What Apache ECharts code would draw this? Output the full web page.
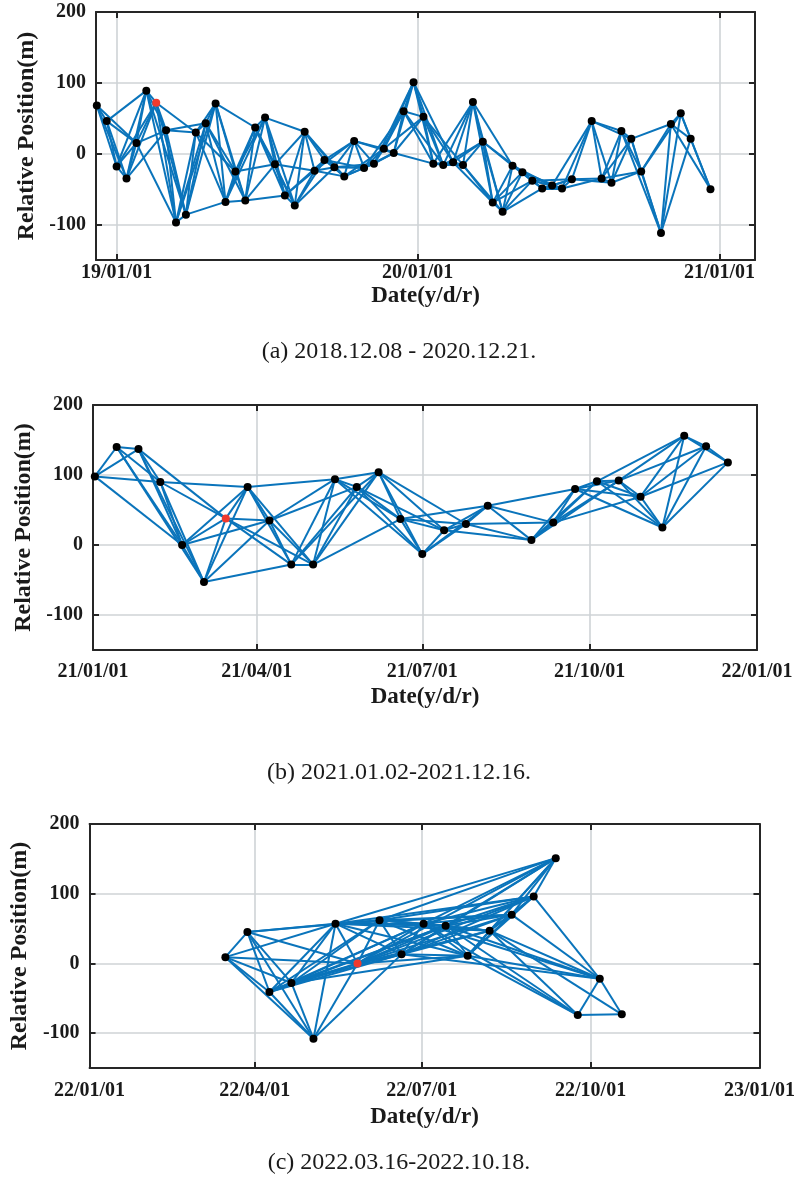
<!DOCTYPE html>
<html>
<head>
<meta charset="utf-8">
<script src="https://cdn.jsdelivr.net/npm/echarts@6.0.0/dist/echarts.min.js"></script>
<style>
html,body{margin:0;padding:0;background:#fff;}
#chart{width:798px;height:1189px;}
</style>
</head>
<body>
<div id="chart"></div>
<script>
// (a) 2018.12.08 - 2020.12.21
var datesA = ['2018-12-08','2018-12-20','2019-01-01','2019-01-13','2019-01-25','2019-02-06','2019-02-18','2019-03-02','2019-03-14','2019-03-26',
  '2019-04-07','2019-04-19','2019-05-01','2019-05-13','2019-05-25','2019-06-06','2019-06-18','2019-06-30','2019-07-12','2019-07-24',
  '2019-08-05','2019-08-17','2019-08-29','2019-09-10','2019-09-22','2019-10-04','2019-10-16','2019-10-28','2019-11-09','2019-11-21',
  '2019-12-03','2019-12-15','2019-12-27','2020-01-08','2020-01-20','2020-02-01','2020-02-13','2020-02-25','2020-03-08','2020-03-20',
  '2020-04-01','2020-04-13','2020-04-25','2020-05-07','2020-05-19','2020-05-31','2020-06-12','2020-06-24','2020-07-06','2020-07-30',
  '2020-08-11','2020-08-23','2020-09-04','2020-09-16','2020-09-28','2020-10-22','2020-11-03','2020-11-15','2020-11-27','2020-12-21']
var valuesA = [68, 46, -18, -35, 15, 89, 72, 33, -97, -86,
  30, 43, 71, -68, -25, -66, 37, 51, -15, -59,
  -73, 31, -24, -9, -19, -32, 18, -20, -14, 7,
  1, 60, 101, 52, -14, -16, -12, -16, 73, 17,
  -69, -82, -17, -26, -38, -49, -45, -49, -36, 46,
  -35, -41, 32, 21, -25, -112, 42, 57, 21, -50]
// forward links of each acquisition (interferometric pairs)
var linksA = [[1,2,3,4],[2,3,4,5],[3,4,5,6],[4,5,6,7],[5,6,7,8],[6,7,8,9],[7,8,9,10],[8,9,10,11],[9,10,11,12],[10,11,12,13],
  [11,12,13,14],[12,13,14,15],[13,14,15,16],[14,15,16,17],[15,16,17,18],[16,17,18,19],[17,18,19,20],[18,19,20,21],[19,20,21,22],[20,21,22,23],
  [21,22,23,24],[22,23,24,25],[23,24,25,26],[24,25,26,27],[25,26,27,28],[26,27,28,29],[27,28,29,30],[28,29,30,31],[29,30,31,32],[30,31,32,33],
  [31,32,33,34],[32,33,34,35],[33,34,35,36],[34,35,36,37],[35,36,37,38],[36,37,38,39],[37,38,39,40],[38,39,40,41],[39,40,41,42],[40,41,42,43],
  [41,42,43,44],[42,43,44,45],[43,44,45,46],[44,45,46,47],[45,46,47,48],[46,47,48],[47,48,49],[48,49,50],[49,50,51],[50,51,52,53],
  [51,52,53,54],[52,53,54],[53,54,55],[54,55,56],[55,56,57],[56,57,58],[57,58,59],[58,59],[59],[]]
var refA = 6
var ticksA = ['2019-01-01','2020-01-01','2021-01-01']

// (b) 2021.01.02-2021.12.16
var datesB = ['2021-01-02','2021-01-14','2021-01-26','2021-02-07','2021-02-19','2021-03-03','2021-03-15','2021-03-27','2021-04-08','2021-04-20',
  '2021-05-02','2021-05-14','2021-05-26','2021-06-07','2021-06-19','2021-07-01','2021-07-13','2021-07-25','2021-08-06','2021-08-30',
  '2021-09-11','2021-09-23','2021-10-05','2021-10-17','2021-10-29','2021-11-10','2021-11-22','2021-12-04','2021-12-16']
var valuesB = [98, 140, 137, 90, 0, -53, 38, 83, 35, -28,
  -28, 94, 83, 104, 37, -13, 21, 30, 56, 7,
  32, 80, 91, 92, 69, 25, 156, 141, 118]
var linksB = [[1,2,3,4],[2,3,4,5],[3,4,5,6],[4,5,6,7],[5,6,7,8],[6,7,8,9],[7,8,9,10],[8,9,10,11],[9,10,11,12],[10,11,12,13],
  [11,12,13,14],[12,13,14,15],[13,14,15,16],[14,15,16,17],[15,16,17,18],[16,17,18],[17,18,19],[18,19,20],[19,20,21],[20,21,22,23],
  [21,22,23,24],[22,23,24,25],[23,24,25,26],[24,25,26,27],[25,26,27,28],[26,27,28],[27,28],[28],[]]
var refB = 6
var ticksB = ['2021-01-01','2021-04-01','2021-07-01','2021-10-01','2022-01-01']

// (c) 2022.03.16-2022.10.18
var datesC = ['2022-03-16','2022-03-28','2022-04-09','2022-04-21','2022-05-03','2022-05-15','2022-05-27','2022-06-08','2022-06-20','2022-07-02',
  '2022-07-14','2022-07-26','2022-08-07','2022-08-19','2022-08-31','2022-09-12','2022-09-24','2022-10-06','2022-10-18']
var valuesC = [9, 45, -41, -28, -108, 57, 0, 62, 13, 57,
  54, 11, 47, 70, 96, 151, -74, -22, -73]
var linksC = [[1,2,3,4,5,6],[2,3,4,5,6,7],[3,4,5,6,7,8,9,10],[4,5,6,7,8,9,10,11],[5,6,8],
  [6,7,8,9,10,11,12,13,14,15],[7,8,9,10,11,12,13,14,15],[8,9,10,11,12,13,14,15],[9,10,11,12,13,14,15,17],[10,11,12,13,14,15,16,17],
  [11,12,13,14,15,16,17],[12,13,14,15,16,17],[13,14,15,16,17,18],[14,15,17],[15,17],[],[17,18],[18],[]]
var refC = 6
var ticksC = ['2022-01-01','2022-04-01','2022-07-01','2022-10-01','2023-01-01']

var yTicks = [-100, 0, 100, 200]
var captions = ['(a) 2018.12.08 - 2020.12.21.', '(b) 2021.01.02-2021.12.16.', '(c) 2022.03.16-2022.10.18.']

var SERIF = '"Liberation Serif","Times New Roman",serif'
var BLUE = '#0a74bb'
var DARK = '#262626'

function toTime(s){
  var p = s.split('-')
  return new Date(+p[0], +p[1] - 1, +p[2]).getTime()
}
function pad(n){ return (n < 10 ? '0' : '') + n }
function fmtDate(v){
  var d = new Date(v)
  return String(d.getFullYear()).slice(2) + '/' + pad(d.getMonth() + 1) + '/' + pad(d.getDate())
}

var panels = [
  {dates: datesA, values: valuesA, links: linksA, ref: refA, ticks: ticksA, min: '2018-12-07', max: '2021-02-13',
   grid: {left: 96, right: 43, top: 12, height: 248}, labelMargin: 3, nameGap: 25, yNameGap: 50, capTop: 340},
  {dates: datesB, values: valuesB, links: linksB, ref: refB, ticks: ticksB, min: '2021-01-01', max: '2022-01-01',
   grid: {left: 93, right: 41, top: 405, height: 245}, labelMargin: 12, nameGap: 36, yNameGap: 50, capTop: 761},
  {dates: datesC, values: valuesC, links: linksC, ref: refC, ticks: ticksC, min: '2022-01-01', max: '2023-01-01',
   grid: {left: 85, right: 36, top: 824, height: 244}, labelMargin: 13, nameGap: 38, yNameGap: 47, capTop: 1151}
]

var grids = [], xAxes = [], yAxes = [], series = [], graphics = []

panels.forEach(function(p, i){
  grids.push({left: p.grid.left, right: p.grid.right, top: p.grid.top, height: p.grid.height, containLabel: false})
  var tickTimes = p.ticks.map(toTime)
  var xmin = toTime(p.min), xmax = toTime(p.max)
  // bottom axis (dates as timestamps on a value axis)
  xAxes.push({
    type: 'value', gridIndex: i, min: xmin, max: xmax, position: 'bottom', scale: true,
    axisLine: {show: true, onZero: false, lineStyle: {color: DARK, width: 2}},
    axisTick: {show: true, inside: true, length: 6, customValues: tickTimes, lineStyle: {color: DARK, width: 2}},
    axisLabel: {show: true, customValues: tickTimes, formatter: fmtDate, margin: p.labelMargin,
      fontFamily: SERIF, fontWeight: 'bold', fontSize: 20, color: '#1a1a1a'},
    splitLine: {show: true, lineStyle: {color: '#cfd3d6', width: 1.6}},
    name: 'Date(y/d/r)', nameLocation: 'middle', nameGap: p.nameGap,
    nameTextStyle: {fontFamily: SERIF, fontWeight: 'bold', fontSize: 23, color: '#1a1a1a'}
  })
  // top mirror (box)
  xAxes.push({
    type: 'value', gridIndex: i, min: xmin, max: xmax, position: 'top', scale: true,
    axisLine: {show: true, onZero: false, lineStyle: {color: DARK, width: 2}},
    axisTick: {show: true, inside: true, length: 6, customValues: tickTimes, lineStyle: {color: DARK, width: 2}},
    axisLabel: {show: false}, splitLine: {show: false}
  })
  yAxes.push({
    type: 'value', gridIndex: i, min: -150, max: 200, position: 'left',
    axisLine: {show: true, onZero: false, lineStyle: {color: DARK, width: 2}},
    axisTick: {show: true, inside: true, length: 6, customValues: yTicks, lineStyle: {color: DARK, width: 2}},
    axisLabel: {show: true, customValues: yTicks, margin: 10,
      fontFamily: SERIF, fontWeight: 'bold', fontSize: 20, color: '#1a1a1a'},
    splitLine: {show: true, lineStyle: {color: '#cfd3d6', width: 1.6}},
    name: 'Relative Position(m)', nameLocation: 'middle', nameGap: p.yNameGap, nameRotate: 90,
    nameTextStyle: {fontFamily: SERIF, fontWeight: 'bold', fontSize: 24, color: '#1a1a1a'}
  })
  yAxes.push({
    type: 'value', gridIndex: i, min: -150, max: 200, position: 'right',
    axisLine: {show: true, onZero: false, lineStyle: {color: DARK, width: 2}},
    axisTick: {show: true, inside: true, length: 6, customValues: yTicks, lineStyle: {color: DARK, width: 2}},
    axisLabel: {show: false}, splitLine: {show: false}
  })

  var pts = p.dates.map(function(d, k){ return [toTime(d), p.values[k]] })
  var edges = []
  p.links.forEach(function(targets, k){
    targets.forEach(function(j){
      edges.push({coords: [pts[k], pts[j]]})
    })
  })
  series.push({
    type: 'lines', coordinateSystem: 'cartesian2d', xAxisIndex: i * 2, yAxisIndex: i * 2,
    data: edges, silent: true, z: 3,
    lineStyle: {color: BLUE, width: 2, opacity: 1, curveness: 0}
  })
  series.push({
    type: 'scatter', xAxisIndex: i * 2, yAxisIndex: i * 2, z: 4, silent: true,
    symbol: 'circle', symbolSize: 8, itemStyle: {color: '#000', opacity: 1},
    data: pts.filter(function(pt, k){ return k !== p.ref })
  })
  series.push({
    type: 'scatter', xAxisIndex: i * 2, yAxisIndex: i * 2, z: 5, silent: true,
    symbol: 'circle', symbolSize: 8, itemStyle: {color: '#f03a2e', opacity: 1},
    data: [pts[p.ref]]
  })
  graphics.push({
    type: 'text', left: 'center', top: p.capTop,
    style: {text: captions[i], font: '24px ' + SERIF, fill: '#1a1a1a'}
  })
})

var chart = echarts.init(document.getElementById('chart'), null, {renderer: 'canvas'})
chart.setOption({
  backgroundColor: '#fff',
  animation: false,
  grid: grids,
  xAxis: xAxes,
  yAxis: yAxes,
  series: series,
  graphic: graphics
})
</script>
</body>
</html>
